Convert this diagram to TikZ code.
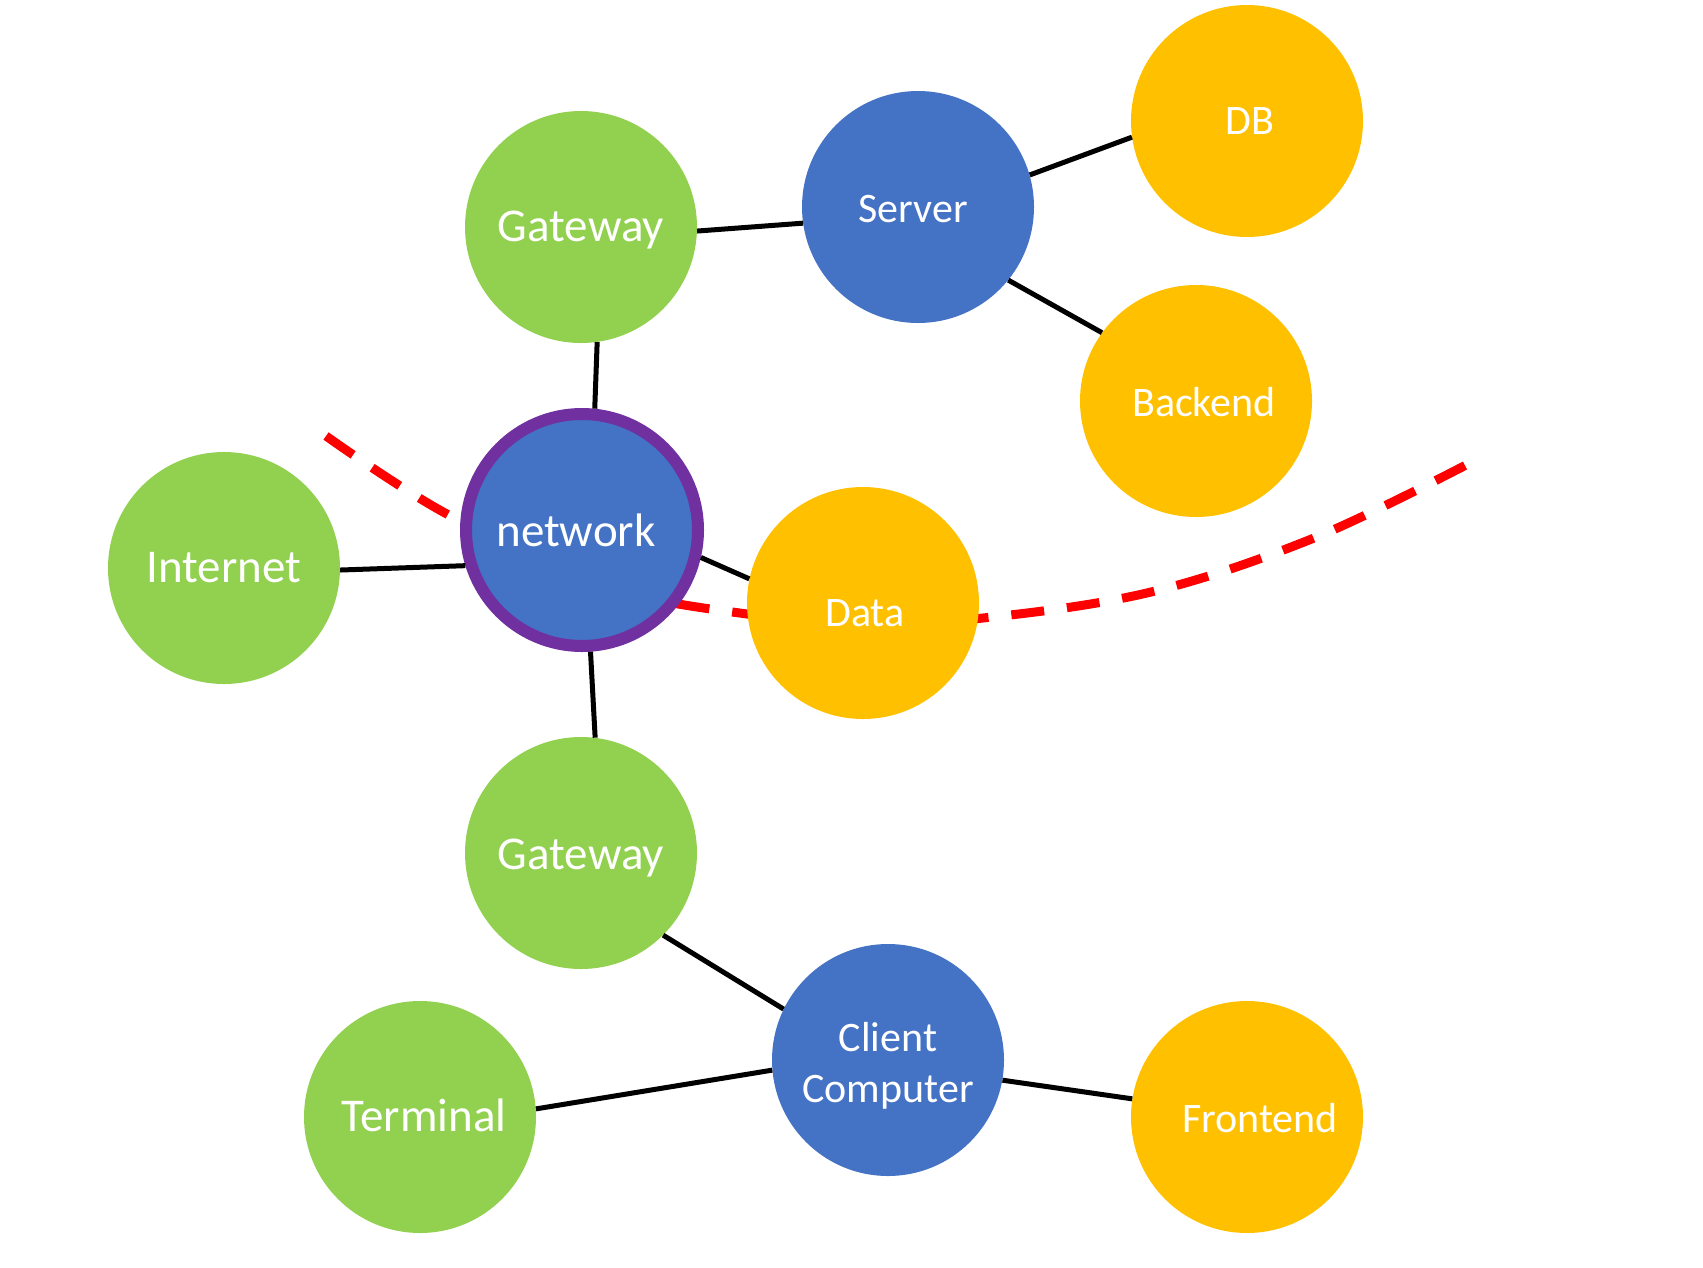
\documentclass[tikz,border=0pt]{standalone}
\usepackage{fontspec}
\setmainfont{Carlito}
% shift text vertically without changing the box used for centring
\newcommand{\lowerby}[2]{\raisebox{-#1}[\height][\depth]{#2}}
\begin{document}
\begin{tikzpicture}[x=1pt,y=-1pt,
  bubble/.style={circle,minimum size=232pt,inner sep=0pt,fill=#1,text=white,align=center},
  big/.style={font=\fontsize{47}{56}\selectfont},
  small/.style={font=\fontsize{42}{51}\selectfont},
  link/.style={line width=5pt,black},
  cut/.style={line width=9pt,red,dash pattern=on 33pt off 23pt}
]
\definecolor{lgreen}{HTML}{92D050}
\definecolor{oblue}{HTML}{4472C4}
\definecolor{ogold}{HTML}{FFC000}
\definecolor{opurple}{HTML}{7030A0}
\useasboundingbox (0,0) rectangle (1703,1267);

% boundary curve, passing behind the network and Data bubbles
\draw[cut] plot[smooth,tension=0.6] coordinates {(326,436) (445,513) (600,585) (747,614) (870,622) (983,618) (1151,592) (1314,538) (1466,465)};

% bubbles
\node[bubble=lgreen,big] (gw1) at (581,227) {\lowerby{3pt}{Gateway}};
\node[bubble=oblue,small] (server) at (918,207) {\lowerby{2pt}{Server}\hspace*{10pt}};
\node[bubble=ogold,small] (db) at (1247,121) {\hspace*{6pt}DB};
\node[bubble=ogold,small] (backend) at (1196,401) {\hspace*{16pt}\lowerby{1pt}{Backend}};
\node[bubble=oblue,big,draw=opurple,line width=12pt] (net) at (582,530) {network\hspace*{12pt}};
\node[bubble=lgreen,big] (internet) at (224,568) {Internet};
\node[bubble=ogold,small] (data) at (863,603) {\hspace*{4pt}\lowerby{10pt}{Data}};
\node[bubble=lgreen,big] (gw2) at (581,853) {\lowerby{5pt}{Gateway}};
\node[bubble=oblue,small] (client) at (888,1060) {\lowerby{6.5pt}{\begin{tabular}{@{}c@{}}Client\\Computer\end{tabular}}};
\node[bubble=lgreen,big] (terminal) at (420,1117) {\hspace*{8pt}\lowerby{-2pt}{Terminal}};
\node[bubble=ogold,small] (frontend) at (1247,1117) {\hspace*{26pt}\lowerby{1pt}{Frontend}};

% connectors
\draw[link] (gw1.-82.6) -- (net.84.3);
\draw[link] (gw1.-2) -- (server.188.7);
\draw[link] (server.16) -- (db.188.3);
\draw[link] (server.-39) -- (backend.144);
\draw[link] (internet.-1) -- (net.197.4);
\draw[link] (net.-13.7) -- (data.168.6);
\draw[link] (net.-86.7) -- (gw2.83);
\draw[link] (gw2.-45.4) -- (client.154.3);
\draw[link] (client.185) -- (terminal.4.4);
\draw[link] (client.-10.7) -- (frontend.171.6);
\end{tikzpicture}
\end{document}
